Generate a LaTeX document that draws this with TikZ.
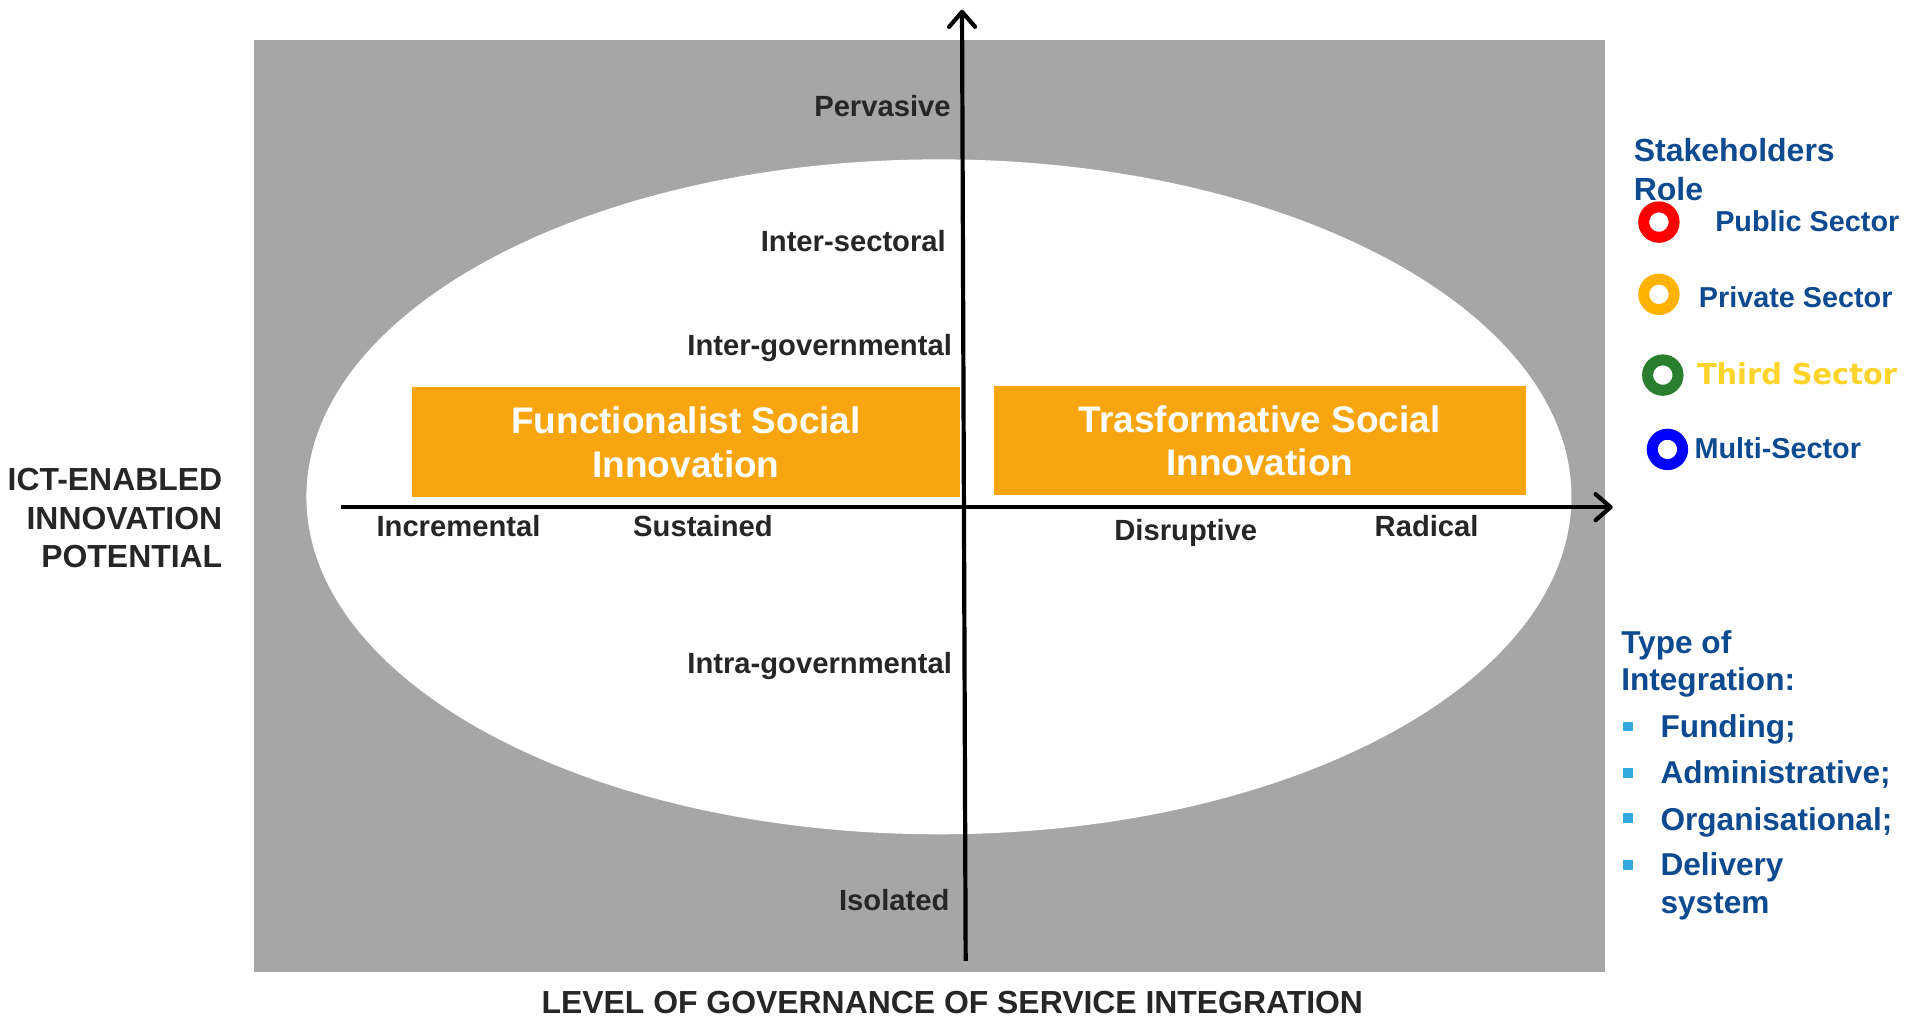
\documentclass[tikz,border=0pt]{standalone}
\usepackage{fontspec}
\setmainfont{Liberation Sans}
\newfontfamily\dejavu{DejaVu Sans}
\usetikzlibrary{arrows.meta}
\definecolor{bggray}{HTML}{A6A6A6}
\definecolor{axtext}{HTML}{262626}
\definecolor{boxorange}{HTML}{F8A50F}
\definecolor{legblue}{HTML}{0D4A90}
\definecolor{thirdyellow}{HTML}{FFD42A}
\definecolor{ringred}{HTML}{FF0000}
\definecolor{ringorange}{HTML}{FFB300}
\definecolor{ringgreen}{HTML}{2A7F2E}
\definecolor{ringblue}{HTML}{0000FF}
\definecolor{bulletblue}{HTML}{33A9E0}
\begin{document}
\begin{tikzpicture}[x=0.608pt,y=-0.608pt,
 tick/.style={font=\fontsize{14.6pt}{17pt}\selectfont\bfseries, text=axtext, inner sep=0pt},
 axtitle/.style={font=\fontsize{15.95pt}{19pt}\selectfont\bfseries, text=axtext, inner sep=0pt},
 obox/.style={fill=boxorange, text=white, font=\fontsize{18.5pt}{21.9pt}\selectfont\bfseries, align=center, minimum height=54.7pt, inner sep=0pt},
 legtitle/.style={font=\fontsize{16pt}{19pt}\selectfont\bfseries, text=legblue, inner sep=0pt, anchor=base west},
 legitem/.style={font=\fontsize{14.4pt}{17pt}\selectfont\bfseries, text=legblue, inner sep=0pt, anchor=base west},
 ring/.style={draw=#1, line width=5.5pt, circle, minimum size=15.2pt, inner sep=0pt},
 intitem/.style={font=\fontsize{15.8pt}{19pt}\selectfont\bfseries, text=legblue, inner sep=0pt, anchor=base west},
 bullet/.style={fill=bulletblue, minimum size=4.9pt, inner sep=0pt},
 axisline/.style={line width=2.1pt, -{Straight Barb[length=7.5pt,width=13pt,round]}}
]
\useasboundingbox (0,0) rectangle (1568,835.4);
% background
\fill[bggray] (209,33) rectangle (1320,799);
\fill[white] (772,408.5) ellipse [x radius=316.2pt, y radius=168.7pt];

% orange boxes
\node[obox, minimum width=273.6pt] (fsi) at (564,363.4) {Functionalist Social\\Innovation};
\node[obox, minimum width=265.7pt] (tsi) at (1035.8,362.4) {Trasformative Social\\Innovation};

% axes
\coordinate (ytop) at (791,8);
\coordinate (ybot) at (794,790);
\coordinate (xl) at (280,417);
\coordinate (xr) at (1326,417);
\draw[axisline] (ybot) -- (ytop);
\draw[axisline] (xl) -- (xr);

% vertical labels
\node[tick, anchor=base east] (pervasive) at (782,96) {Pervasive};
\node[tick, anchor=base east] (intersect) at (778,207) {Inter-sectoral};
\node[tick, anchor=base east] (intergov) at (783,292) {Inter-governmental};
\node[tick, anchor=base east] (intragov) at (783,554) {Intra-governmental};
\node[tick, anchor=base east] (isolated) at (781,749) {Isolated};

% horizontal labels
\node[tick, anchor=base] (incr) at (377,441) {Incremental};
\node[tick, anchor=base] (sust) at (578,441) {Sustained};
\node[tick, anchor=base] (disr) at (975,444) {Disruptive};
\node[tick, anchor=base] (radi) at (1173,441) {Radical};

% axis titles
\node[axtitle, anchor=base east] (ict1) at (183,403) {ICT-ENABLED};
\node[axtitle, anchor=base east] (ict2) at (183,435) {INNOVATION};
\node[axtitle, anchor=base east] (ict3) at (183,467) {POTENTIAL};
\node[axtitle, anchor=base] (level) at (783,833) {LEVEL OF GOVERNANCE OF SERVICE INTEGRATION};

% stakeholders legend
\node[legtitle] (sh1) at (1343,133) {Stakeholders};
\node[legtitle] (sh2) at (1343,164.5) {Role};
\node[ring=ringred] (rred) at (1364,182.6) {};
\node[ring=ringorange] (rorange) at (1364,242) {};
\node[ring=ringgreen] (rgreen) at (1367.2,308.4) {};
\node[ring=ringblue] (rblue) at (1371,369.5) {};
\node[legitem] (lpub) at (1410,190) {Public Sector};
\node[legitem] (lpriv) at (1396.5,252.7) {Private Sector};
\node[legitem, text=thirdyellow, font=\fontsize{14.4pt}{17pt}\selectfont\dejavu\bfseries] (lthird) at (1395,315.8) {Third Sector};
\node[legitem] (lmulti) at (1393,376.9) {Multi-Sector};

% integration legend
\node[intitem] (ti1) at (1332.7,537.2) {Type of};
\node[intitem] (ti2) at (1332.7,568) {Integration:};
\node[bullet] (b1) at (1338.3,597.3) {};
\node[bullet] (b2) at (1338.3,635.4) {};
\node[bullet] (b3) at (1338.3,672.8) {};
\node[bullet] (b4) at (1338.3,711.3) {};
\node[intitem] (it1) at (1365,606.3) {Funding;};
\node[intitem] (it2) at (1365,644.1) {Administrative;};
\node[intitem] (it3) at (1365,682.5) {Organisational;};
\node[intitem] (it4) at (1365,719.5) {Delivery};
\node[intitem] (it5) at (1365,751) {system};
\end{tikzpicture}
\end{document}
